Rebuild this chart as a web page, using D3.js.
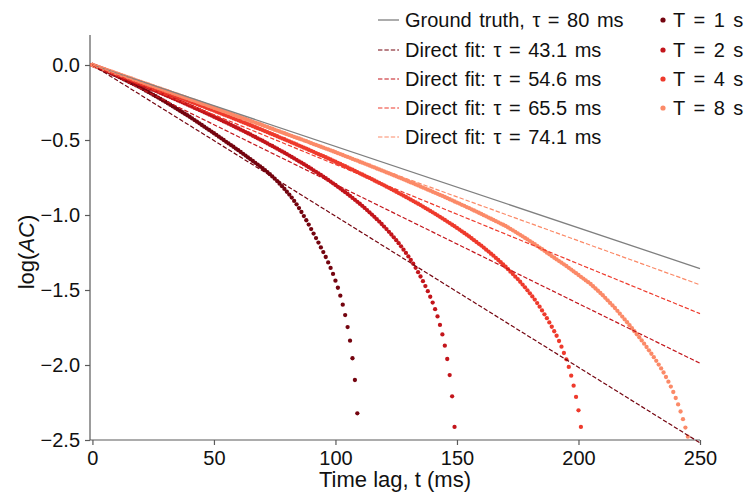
<!DOCTYPE html>
<html>
<head>
<meta charset="utf-8">
<script src="https://cdn.jsdelivr.net/npm/d3@7"></script>
<style>
  body { margin: 0; background: #fff; }
  svg { display: block; font-family: "Liberation Sans", Arial, Helvetica, sans-serif; }
</style>
</head>
<body>
<svg id="chart" width="747" height="496"></svg>
<script>
// ---- data -------------------------------------------------------------
const groundTruthTau = 80;                       // ms
const fitTaus = [43.1, 54.6, 65.5, 74.1];        // direct exponential fits, ms
const windowLabels = ["T = 1 s", "T = 2 s", "T = 4 s", "T = 8 s"];
const seriesColors = ["#74040f", "#c3151b", "#ee3a2c", "#fb8a68"];
const xTicks = [0, 50, 100, 150, 200, 250];
const yTicks = [0, -0.5, -1.0, -1.5, -2.0, -2.5];
const lagStepMs = 1;                             // one sample per ms lag, starting at 0

// log10 of the estimated autocorrelation, one value per lag
const logAC_T1 = [
  0, -0.007, -0.014, -0.022, -0.029, -0.036, -0.043, -0.050, -0.058, -0.065,
  -0.072, -0.080, -0.088, -0.096, -0.104, -0.112, -0.120, -0.128, -0.136, -0.144,
  -0.152, -0.161, -0.171, -0.180, -0.189, -0.199, -0.208, -0.217, -0.226, -0.236,
  -0.245, -0.255, -0.265, -0.275, -0.285, -0.295, -0.305, -0.315, -0.325, -0.335,
  -0.345, -0.356, -0.367, -0.378, -0.389, -0.400, -0.411, -0.422, -0.433, -0.444,
  -0.455, -0.466, -0.478, -0.489, -0.500, -0.512, -0.523, -0.534, -0.545, -0.557,
  -0.568, -0.580, -0.592, -0.604, -0.616, -0.628, -0.640, -0.652, -0.664, -0.676,
  -0.688, -0.701, -0.714, -0.728, -0.743, -0.758, -0.774, -0.791, -0.808, -0.826,
  -0.845, -0.864, -0.884, -0.906, -0.929, -0.954, -0.980, -1.007, -1.035, -1.064,
  -1.094, -1.124, -1.154, -1.184, -1.216, -1.247, -1.280, -1.316, -1.353, -1.393,
  -1.438, -1.485, -1.538, -1.598, -1.667, -1.747, -1.838, -1.955, -2.100, -2.322
];
const logAC_T2 = [
  0, -0.006, -0.013, -0.019, -0.026, -0.032, -0.039, -0.045, -0.052, -0.058,
  -0.065, -0.071, -0.078, -0.085, -0.091, -0.098, -0.105, -0.111, -0.118, -0.125,
  -0.131, -0.138, -0.145, -0.152, -0.159, -0.165, -0.172, -0.179, -0.186, -0.193,
  -0.200, -0.207, -0.214, -0.221, -0.228, -0.235, -0.242, -0.249, -0.256, -0.264,
  -0.271, -0.278, -0.286, -0.293, -0.300, -0.307, -0.315, -0.322, -0.330, -0.337,
  -0.345, -0.353, -0.360, -0.368, -0.376, -0.383, -0.391, -0.399, -0.407, -0.415,
  -0.423, -0.431, -0.439, -0.447, -0.455, -0.463, -0.472, -0.480, -0.489, -0.497,
  -0.505, -0.514, -0.523, -0.532, -0.540, -0.549, -0.558, -0.567, -0.576, -0.585,
  -0.594, -0.604, -0.613, -0.623, -0.632, -0.642, -0.651, -0.661, -0.671, -0.681,
  -0.691, -0.702, -0.712, -0.723, -0.733, -0.744, -0.755, -0.766, -0.777, -0.789,
  -0.800, -0.812, -0.824, -0.836, -0.848, -0.860, -0.873, -0.886, -0.899, -0.912,
  -0.925, -0.939, -0.953, -0.967, -0.982, -0.997, -1.012, -1.028, -1.044, -1.060,
  -1.077, -1.094, -1.112, -1.130, -1.149, -1.168, -1.188, -1.209, -1.231, -1.253,
  -1.276, -1.300, -1.325, -1.352, -1.381, -1.410, -1.441, -1.474, -1.508, -1.545,
  -1.584, -1.628, -1.676, -1.733, -1.796, -1.871, -1.960, -2.067, -2.209, -2.413
];
const logAC_T4 = [
  0, -0.006, -0.012, -0.018, -0.024, -0.030, -0.036, -0.041, -0.047, -0.053,
  -0.059, -0.065, -0.071, -0.077, -0.083, -0.089, -0.095, -0.101, -0.107, -0.113,
  -0.119, -0.125, -0.131, -0.137, -0.143, -0.149, -0.155, -0.161, -0.168, -0.174,
  -0.180, -0.186, -0.192, -0.198, -0.204, -0.211, -0.217, -0.223, -0.229, -0.235,
  -0.242, -0.248, -0.254, -0.260, -0.267, -0.273, -0.279, -0.286, -0.292, -0.298,
  -0.304, -0.311, -0.317, -0.324, -0.330, -0.336, -0.343, -0.349, -0.356, -0.362,
  -0.369, -0.375, -0.382, -0.388, -0.395, -0.401, -0.408, -0.415, -0.421, -0.428,
  -0.434, -0.441, -0.448, -0.455, -0.461, -0.468, -0.475, -0.482, -0.489, -0.495,
  -0.502, -0.509, -0.516, -0.523, -0.530, -0.537, -0.544, -0.551, -0.558, -0.565,
  -0.572, -0.579, -0.587, -0.594, -0.601, -0.608, -0.615, -0.623, -0.630, -0.638,
  -0.645, -0.653, -0.660, -0.668, -0.675, -0.683, -0.691, -0.698, -0.706, -0.714,
  -0.722, -0.730, -0.738, -0.746, -0.753, -0.761, -0.770, -0.778, -0.786, -0.794,
  -0.802, -0.811, -0.819, -0.828, -0.836, -0.845, -0.854, -0.862, -0.871, -0.880,
  -0.889, -0.898, -0.907, -0.916, -0.925, -0.934, -0.944, -0.954, -0.963, -0.973,
  -0.982, -0.992, -1.002, -1.012, -1.023, -1.033, -1.044, -1.054, -1.065, -1.075,
  -1.086, -1.097, -1.109, -1.120, -1.131, -1.143, -1.155, -1.168, -1.180, -1.192,
  -1.204, -1.217, -1.231, -1.244, -1.258, -1.271, -1.286, -1.300, -1.315, -1.330,
  -1.345, -1.361, -1.378, -1.394, -1.411, -1.427, -1.445, -1.464, -1.482, -1.502,
  -1.522, -1.543, -1.564, -1.587, -1.611, -1.636, -1.662, -1.688, -1.716, -1.745,
  -1.775, -1.805, -1.840, -1.878, -1.920, -1.962, -2.013, -2.071, -2.138, -2.213,
  -2.302, -2.413
];
const logAC_T8 = [
  0, -0.006, -0.011, -0.017, -0.022, -0.028, -0.034, -0.039, -0.045, -0.051,
  -0.056, -0.062, -0.068, -0.073, -0.079, -0.085, -0.090, -0.096, -0.102, -0.107,
  -0.113, -0.119, -0.124, -0.130, -0.136, -0.141, -0.147, -0.153, -0.158, -0.164,
  -0.170, -0.175, -0.181, -0.187, -0.193, -0.198, -0.204, -0.210, -0.215, -0.221,
  -0.227, -0.233, -0.238, -0.244, -0.250, -0.256, -0.261, -0.267, -0.273, -0.279,
  -0.285, -0.290, -0.296, -0.302, -0.308, -0.314, -0.319, -0.325, -0.331, -0.337,
  -0.343, -0.348, -0.354, -0.360, -0.366, -0.372, -0.378, -0.384, -0.389, -0.395,
  -0.401, -0.407, -0.413, -0.419, -0.425, -0.431, -0.437, -0.443, -0.449, -0.455,
  -0.461, -0.467, -0.473, -0.479, -0.485, -0.490, -0.496, -0.502, -0.508, -0.514,
  -0.521, -0.527, -0.533, -0.539, -0.545, -0.551, -0.557, -0.563, -0.569, -0.575,
  -0.581, -0.588, -0.594, -0.600, -0.607, -0.613, -0.619, -0.626, -0.632, -0.638,
  -0.645, -0.651, -0.657, -0.664, -0.670, -0.677, -0.683, -0.690, -0.696, -0.703,
  -0.709, -0.716, -0.722, -0.729, -0.735, -0.742, -0.749, -0.755, -0.762, -0.769,
  -0.776, -0.783, -0.789, -0.796, -0.803, -0.810, -0.817, -0.824, -0.831, -0.838,
  -0.845, -0.852, -0.859, -0.866, -0.873, -0.880, -0.888, -0.895, -0.902, -0.910,
  -0.917, -0.924, -0.932, -0.939, -0.947, -0.954, -0.962, -0.970, -0.977, -0.985,
  -0.993, -1.001, -1.009, -1.017, -1.025, -1.033, -1.041, -1.049, -1.057, -1.065,
  -1.073, -1.083, -1.093, -1.102, -1.112, -1.122, -1.132, -1.142, -1.153, -1.163,
  -1.174, -1.185, -1.195, -1.206, -1.217, -1.228, -1.239, -1.251, -1.262, -1.274,
  -1.285, -1.296, -1.307, -1.318, -1.329, -1.340, -1.352, -1.364, -1.376, -1.388,
  -1.400, -1.412, -1.424, -1.436, -1.448, -1.460, -1.475, -1.490, -1.505, -1.520,
  -1.535, -1.552, -1.569, -1.586, -1.603, -1.620, -1.639, -1.658, -1.677, -1.696,
  -1.715, -1.735, -1.755, -1.775, -1.795, -1.815, -1.836, -1.858, -1.880, -1.902,
  -1.925, -1.948, -1.972, -1.997, -2.023, -2.050, -2.080, -2.111, -2.144, -2.180,
  -2.220, -2.263, -2.310, -2.361, -2.417, -2.478
];
const estimates = [logAC_T1, logAC_T2, logAC_T4, logAC_T8];

// ---- layout -------------------------------------------------------------
const svg = d3.select("#chart");
const x = d3.scaleLinear().domain([-1, 250]).range([90, 700]);
const y = d3.scaleLinear().domain([-2.5, 0.2]).range([440, 35]);
const axisColor = "#5a5a5a";
const LOG10E = Math.LOG10E;
const expLine = tau => [[0, 0], [250, -250 / tau * LOG10E]];
const line = d3.line().x(d => x(d[0])).y(d => y(d[1]));

// ---- axes -------------------------------------------------------------
const fmtY = d => d === 0 ? "0.0" : "\u2212" + Math.abs(d).toFixed(1);
const gx = svg.append("g").attr("transform", `translate(0,${y(-2.5)})`)
  .call(d3.axisBottom(x).tickValues(xTicks).tickSize(5).tickPadding(6).tickFormat(d3.format("d")));
const gy = svg.append("g").attr("transform", `translate(${x(-1)},0)`)
  .call(d3.axisLeft(y).tickValues(yTicks).tickSize(5).tickPadding(5).tickFormat(fmtY));
[gx, gy].forEach(g => {
  g.select(".domain").attr("stroke", axisColor).attr("stroke-width", 1.2);
  g.selectAll(".tick line").attr("stroke", axisColor).attr("stroke-width", 1.2);
  g.selectAll(".tick text").attr("fill", "#111").style("font-size", "20px")
    .style("font-family", "'Liberation Sans', Arial, sans-serif");
});
gx.select(".domain").attr("d", `M${x(-1)},0H${x(250)}`);
gy.select(".domain").attr("d", `M0,${y(-2.5)}V${y(0.2)}`);

svg.append("text")
  .attr("x", (x(-1) + x(250)) / 2).attr("y", 487)
  .attr("text-anchor", "middle").attr("fill", "#111")
  .style("font-size", "22px")
  .text("Time lag, t (ms)");

const yl = svg.append("text")
  .attr("transform", "translate(34,252) rotate(-90)")
  .attr("text-anchor", "middle").attr("fill", "#111")
  .style("font-size", "22px");
yl.append("tspan").text("log(");
yl.append("tspan").style("font-style", "italic").text("AC");
yl.append("tspan").text(")");

// ---- autocorrelation estimates (dots) ----------------------------------
estimates.forEach((vals, i) => {
  svg.append("g").selectAll("circle")
    .data(vals)
    .join("circle")
    .attr("cx", (d, k) => x(k * lagStepMs))
    .attr("cy", d => y(d))
    .attr("r", 2.15)
    .attr("fill", seriesColors[i]);
});

// ---- ground truth and fitted exponentials (lines on top) ---------------
svg.append("path").attr("d", line(expLine(groundTruthTau)))
  .attr("fill", "none").attr("stroke", "#7f7f7f").attr("stroke-width", 1.3);
fitTaus.forEach((tau, i) => {
  svg.append("path").attr("d", line(expLine(tau)))
    .attr("fill", "none").attr("stroke", seriesColors[i])
    .attr("stroke-width", 1.2).attr("stroke-dasharray", "4.4,2");
});

// ---- legend -------------------------------------------------------------
const rowY = [20, 50, 79, 108, 137];
const lg = svg.append("g").style("font-size", "20px").attr("fill", "#111");
const lineEntries = [{ label: "Ground truth, \u03C4 = " + groundTruthTau + " ms", color: "#7f7f7f", dash: null }]
  .concat(fitTaus.map((tau, i) => ({ label: "Direct fit: \u03C4 = " + tau.toFixed(1) + " ms", color: seriesColors[i], dash: "4.4,2" })));
lineEntries.forEach((e, i) => {
  lg.append("line").attr("x1", 378).attr("x2", 399).attr("y1", rowY[i]).attr("y2", rowY[i])
    .attr("stroke", e.color).attr("stroke-width", e.dash ? 1.2 : 1.3)
    .attr("stroke-dasharray", e.dash);
  lg.append("text").attr("x", 405).attr("y", rowY[i]).attr("dy", "0.36em")
    .style("word-spacing", "2px").text(e.label);
});
windowLabels.forEach((label, i) => {
  lg.append("circle").attr("cx", 663).attr("cy", rowY[i]).attr("r", 2.6).attr("fill", seriesColors[i]);
  lg.append("text").attr("x", 673).attr("y", rowY[i]).attr("dy", "0.36em")
    .style("word-spacing", "3px").text(label);
});
</script>
</body>
</html>
